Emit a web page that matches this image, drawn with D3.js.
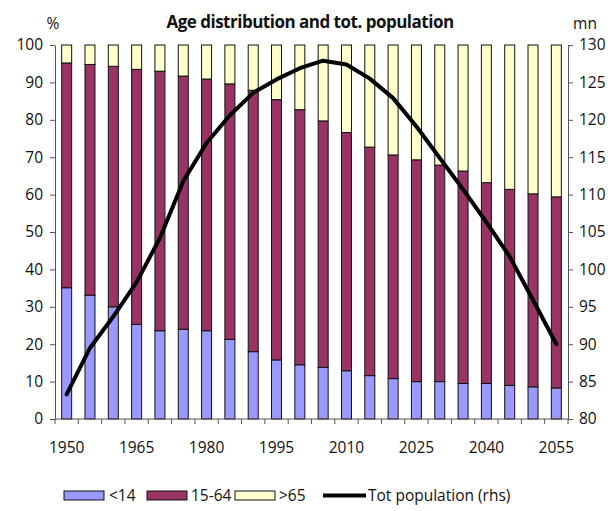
<!DOCTYPE html>
<html>
<head>
<meta charset="utf-8">
<script src="https://cdn.jsdelivr.net/npm/d3@7/dist/d3.min.js"></script>
<style>
  body { margin: 0; background: #fff; }
  text { font-family: "Open Sans", sans-serif; fill: #111; }
  .axis path, .axis line { stroke: #555; }
</style>
</head>
<body>
<svg id="chart" width="614" height="511"></svg>
<script>
var years = [1950, 1955, 1960, 1965, 1970, 1975, 1980, 1985, 1990, 1995, 2000,
             2005, 2010, 2015, 2020, 2025, 2030, 2035, 2040, 2045, 2050, 2055];
var tickYears = [1950, 1965, 1980, 1995, 2010, 2025, 2040, 2055];

// share of population, %
var under14 = [35.1, 33.1, 30.0, 25.3, 23.6, 24.0, 23.6, 21.3, 18.0, 15.8, 14.5,
               13.8, 12.9, 11.6, 10.8, 10.0, 10.0, 9.5, 9.5, 9.0, 8.6, 8.3];
var age15to64 = [60.1, 61.7, 64.3, 68.2, 69.4, 67.7, 67.3, 68.3, 69.9, 69.6, 68.2,
                 65.9, 63.7, 61.1, 59.8, 59.3, 57.9, 56.8, 53.7, 52.4, 51.6, 51.1];
var over65 = [4.8, 5.2, 5.7, 6.5, 7.0, 8.3, 9.1, 10.4, 12.1, 14.6, 17.3,
              20.3, 23.4, 27.3, 29.4, 30.7, 32.1, 33.7, 36.8, 38.6, 39.8, 40.6];
// total population, mn
var totPopulation = [83.3, 89.5, 93.7, 98.3, 104.2, 111.8, 116.9, 120.6, 123.6, 125.4, 126.9,
                     127.9, 127.4, 125.5, 122.9, 119.1, 114.9, 110.7, 106.3, 101.7, 95.9, 90.0];

var seriesNames = ["<14", "15-64", ">65"];
var seriesColors = ["#9999ff", "#993366", "#ffffcc"];

(function () {
    var svg = d3.select("#chart");
    var plotLeft = 55, plotRight = 568, plotTop = 45, plotBottom = 419;
    var fontSize = "15.5px";

    var rows = years.map(function(y, i) {
        return { year: y, "<14": under14[i], "15-64": age15to64[i], ">65": over65[i], pop: totPopulation[i] };
    });

    var x = d3.scaleBand().domain(years).range([plotLeft, plotRight]);
    var barW = 10;
    var yPct = d3.scaleLinear().domain([0, 100]).range([plotBottom, plotTop]);
    var yPop = d3.scaleLinear().domain([80, 130]).range([plotBottom, plotTop]);

    var layers = d3.stack().keys(seriesNames)(rows);

    svg.append("g")
        .selectAll("g")
        .data(layers)
        .enter().append("g")
          .attr("fill", function(d, i) { return seriesColors[i]; })
        .selectAll("rect")
        .data(function(d) { return d; })
        .enter().append("rect")
          .attr("x", function(d) { return x(d.data.year) + (x.bandwidth() - barW) / 2; })
          .attr("width", barW)
          .attr("y", function(d) { return yPct(d[1]); })
          .attr("height", function(d) { return yPct(d[0]) - yPct(d[1]); })
          .attr("stroke", "#111")
          .attr("stroke-width", 1);

    // axes
    svg.append("g").attr("class", "axis")
        .attr("transform", "translate(" + plotLeft + ",0)")
        .call(d3.axisLeft(yPct).tickValues(d3.range(0, 101, 10)).tickSize(5).tickPadding(7).tickSizeOuter(0));
    svg.append("g").attr("class", "axis")
        .attr("transform", "translate(" + plotRight + ",0)")
        .call(d3.axisRight(yPop).tickValues(d3.range(80, 131, 5)).tickSize(5).tickPadding(6).tickSizeOuter(0));

    // x axis: a tick at each band boundary, labels every third year
    var xAxis = svg.append("g").attr("class", "axis");
    xAxis.append("line")
        .attr("x1", plotLeft).attr("x2", plotRight).attr("y1", plotBottom).attr("y2", plotBottom);
    xAxis.selectAll("line.tk")
        .data(years.concat(["end"]))
        .enter().append("line")
          .attr("class", "tk")
          .attr("x1", function(d) { return d === "end" ? plotRight : x(d); })
          .attr("x2", function(d) { return d === "end" ? plotRight : x(d); })
          .attr("y1", plotBottom).attr("y2", plotBottom + 5);
    xAxis.selectAll("text")
        .data(tickYears)
        .enter().append("text")
          .attr("x", function(d) { return x(d) + x.bandwidth() / 2; })
          .attr("y", plotBottom + 34)
          .attr("text-anchor", "middle")
          .text(function(d) { return d; });

    svg.selectAll(".axis text").style("font-size", fontSize).attr("fill", "#111");

    // population line
    var line = d3.line()
        .x(function(d) { return x(d.year) + x.bandwidth() / 2; })
        .y(function(d) { return yPop(d.pop); });
    svg.append("path")
        .datum(rows)
        .attr("d", line)
        .attr("fill", "none")
        .attr("stroke", "#000")
        .attr("stroke-width", 4)
        .attr("stroke-linejoin", "round")
        .attr("stroke-linecap", "round");

    // titles
    svg.append("text").attr("x", 310).attr("y", 28).attr("text-anchor", "middle")
        .style("font-size", "17px").style("font-weight", "bold").style("letter-spacing", "-0.5px")
        .text("Age distribution and tot. population");
    svg.append("text").attr("x", 53).attr("y", 29).attr("text-anchor", "middle")
        .style("font-size", fontSize).text("%");
    svg.append("text").attr("x", 585).attr("y", 29).attr("text-anchor", "middle")
        .style("font-size", fontSize).text("mn");

    // legend
    var legendItems = [
        { label: "<14", color: seriesColors[0], x: 64, tx: 109 },
        { label: "15-64", color: seriesColors[1], x: 147, tx: 191 },
        { label: ">65", color: seriesColors[2], x: 235, tx: 279 }
    ];
    var legend = svg.append("g");
    legend.selectAll("rect")
        .data(legendItems)
        .enter().append("rect")
          .attr("x", function(d) { return d.x; })
          .attr("y", 491)
          .attr("width", 40).attr("height", 9)
          .attr("fill", function(d) { return d.color; })
          .attr("stroke", "#111");
    legend.selectAll("text")
        .data(legendItems.concat([{ label: "Tot population (rhs)", tx: 368 }]))
        .enter().append("text")
          .attr("x", function(d) { return d.tx; })
          .attr("y", 501)
          .style("font-size", fontSize)
          .text(function(d) { return d.label; });
    legend.append("line")
        .attr("x1", 323).attr("x2", 366).attr("y1", 495.5).attr("y2", 495.5)
        .attr("stroke", "#000").attr("stroke-width", 4);
})();
</script>
</body>
</html>
